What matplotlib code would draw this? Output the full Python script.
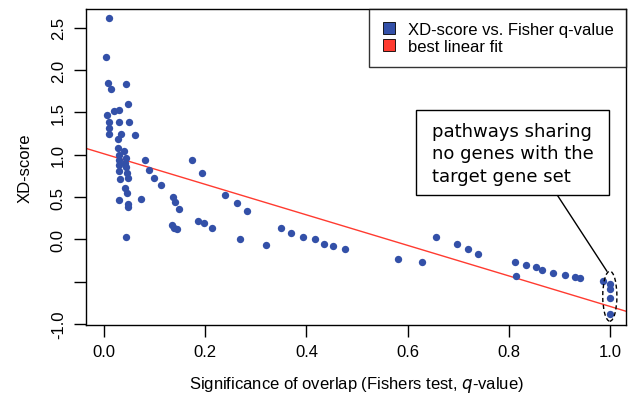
import numpy as np
import matplotlib
matplotlib.use("Agg")
import matplotlib.pyplot as plt
from matplotlib.patches import Ellipse, Rectangle
from matplotlib.lines import Line2D

# q-value (x) and XD-score (y)
q_value = [0.009, 0.003, 0.007, 0.013, 0.043, 0.047, 0.020, 0.030, 0.005, 0.010,
           0.030, 0.050, 0.010, 0.010, 0.034, 0.060, 0.028, 0.027, 0.040, 0.030,
           0.043, 0.030, 0.042, 0.029, 0.043, 0.030, 0.045, 0.031, 0.048, 0.042,
           0.045, 0.030, 0.047, 0.047, 0.044, 0.080, 0.088, 0.099, 0.113, 0.073,
           0.136, 0.140, 0.147, 0.134, 0.139, 0.143, 0.174, 0.193, 0.186, 0.198,
           0.213, 0.239, 0.262, 0.283, 0.269, 0.320, 0.350, 0.370, 0.393, 0.416,
           0.435, 0.452, 0.477, 0.582, 0.628, 0.656, 0.697, 0.719, 0.740, 0.813,
           0.815, 0.835, 0.854, 0.865, 0.887, 0.912, 0.931, 0.942, 0.987, 1.000,
           1.000, 1.000, 1.000]
xd_score = [2.61, 2.15, 1.85, 1.78, 1.84, 1.60, 1.52, 1.53, 1.47, 1.39,
            1.39, 1.39, 1.32, 1.24, 1.25, 1.23, 1.18, 1.08, 1.04, 1.00,
            0.96, 0.94, 0.90, 0.88, 0.85, 0.81, 0.79, 0.71, 0.72, 0.61,
            0.55, 0.47, 0.42, 0.38, 0.03, 0.94, 0.82, 0.73, 0.64, 0.48,
            0.50, 0.44, 0.36, 0.17, 0.14, 0.12, 0.94, 0.78, 0.22, 0.19,
            0.14, 0.53, 0.43, 0.33, 0.00, -0.06, 0.14, 0.08, 0.03, 0.00,
            -0.05, -0.08, -0.11, -0.23, -0.27, 0.03, -0.05, -0.11, -0.17, -0.27,
            -0.43, -0.30, -0.33, -0.36, -0.40, -0.42, -0.44, -0.46, -0.49, -0.53,
            -0.59, -0.69, -0.88]

fit_intercept = 1.01
fit_slope = -1.80

x_ticks = [0.0, 0.2, 0.4, 0.6, 0.8, 1.0]
y_ticks = [-1.0, -0.5, 0.0, 0.5, 1.0, 1.5, 2.0, 2.5]
y_ticklabels = ["-1.0", "", "0.0", "0.5", "1.0", "1.5", "2.0", "2.5"]

blue = "#3350a8"
red = "#ff3b30"

plt.rcParams["font.family"] = ["Liberation Sans", "DejaVu Sans"]

fig = plt.figure(figsize=(6.29, 4.10), dpi=100)
ax = fig.add_axes([86 / 629, 84 / 410, 540 / 629, 316 / 410])

ax.scatter(q_value, xd_score, s=28, color=blue, linewidths=0, zorder=3)
ax.axline((0, fit_intercept), slope=fit_slope, color=red, lw=1.0, zorder=2)

ax.set_xlim(-0.036, 1.032)
ax.set_ylim(-1.01, 2.72)
ax.set_xticks(x_ticks)
ax.set_xticklabels([f"{t:.1f}" for t in x_ticks])
ax.set_yticks(y_ticks)
ax.set_yticklabels(y_ticklabels, rotation=90, va="center")
ax.tick_params(axis="both", length=8.5, width=1, labelsize=12, color="black")
ax.tick_params(axis="x", pad=5)
ax.tick_params(axis="y", pad=6)
for sp in ax.spines.values():
    sp.set_linewidth(1.0)

ax.set_xlabel("Significance of overlap (Fishers test, $q$-value)", fontsize=12, labelpad=11)
ax.set_ylabel("XD-score", fontsize=12, labelpad=13)

# legend
handles = [Line2D([], [], marker="s", linestyle="none", markersize=8,
                  markerfacecolor=blue, markeredgecolor="black", markeredgewidth=0.6),
           Line2D([], [], marker="s", linestyle="none", markersize=8,
                  markerfacecolor=red, markeredgecolor="black", markeredgewidth=0.6)]
leg = ax.legend(handles, ["XD-score vs. Fisher q-value", "best linear fit"],
                loc="upper right", bbox_to_anchor=(1, 1), borderaxespad=0,
                fontsize=12, fancybox=False, frameon=True, handletextpad=0.6,
                labelspacing=0.15, borderpad=0.75, handlelength=1.0)
leg.get_frame().set_edgecolor("black")
leg.get_frame().set_linewidth(1.0)

# annotation box
ax.add_patch(Rectangle((0.617, 0.527), 0.381, 1.005, fill=False, ec="black",
                       lw=1.0, zorder=4))
ax.text(0.648, 1.015, "pathways sharing\nno genes with the\ntarget gene set",
        ha="left", va="center", fontsize=13, linespacing=1.35,
        family="DejaVu Sans", zorder=5)
ax.plot([0.897, 0.994], [0.515, -0.373], color="black", lw=1.0, zorder=4)
ax.add_patch(Ellipse((1.0, -0.67), 0.028, 0.59, fill=False, ec="black",
                     lw=1.0, ls=(0, (3, 2)), zorder=4))

fig.savefig("out.png", dpi=100)
